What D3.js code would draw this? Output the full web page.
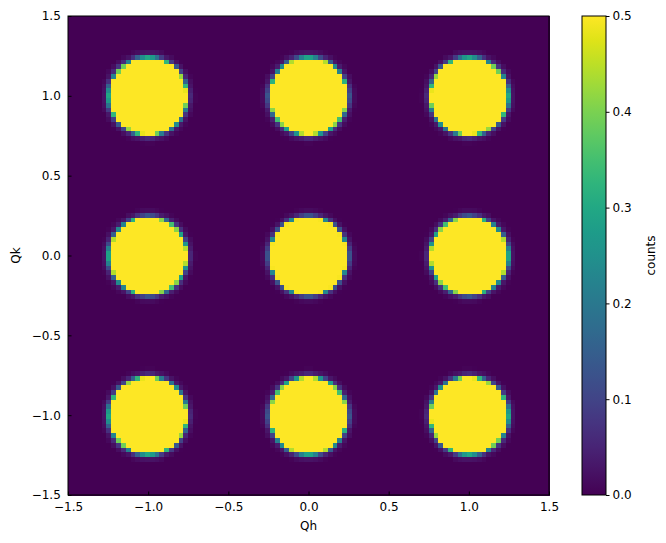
<!DOCTYPE html>
<html><head><meta charset="utf-8">
<script src="https://cdn.jsdelivr.net/npm/d3@7"></script>
<style>body{margin:0;background:#fff}text{font-family:"DejaVu Sans",sans-serif}</style>
</head><body>
<svg id="c" width="666" height="543"></svg>
<script>
const peakH = [-1, 0, 1];
const peakK = [-1, 0, 1];
const profileR = [0, 0.22, 0.237, 0.247, 0.257, 0.27, 0.3];
const profileV = [1.0, 0.8, 0.5, 0.25, 0.1, 0.03, 0.0];
const xTicks = [-1.5, -1.0, -0.5, 0.0, 0.5, 1.0, 1.5];
const yTicks = [-1.5, -1.0, -0.5, 0.0, 0.5, 1.0, 1.5];
const cTicks = [0.0, 0.1, 0.2, 0.3, 0.4, 0.5];
const nBins = 100;

const svg = d3.select("#c");
const L=68,R=549,T=16,B=495;
const x = d3.scaleLinear().domain([-1.5,1.5]).range([L,R]);
const y = d3.scaleLinear().domain([-1.5,1.5]).range([B,T]);
const color = d3.scaleSequential(d3.interpolateViridis).domain([0,0.5]).clamp(true);
const prof = d3.scaleLinear().domain(profileR).range(profileV).clamp(true);
const step = 3/nBins;
const cells=[];
for(let i=0;i<nBins;i++)for(let j=0;j<nBins;j++){
  const h=-1.5+(i+0.5)*step, k=-1.5+(j+0.5)*step;
  let v=0;
  peakH.forEach(ph=>peakK.forEach(pk=>{v+=prof(Math.hypot(h-ph,k-pk));}));
  cells.push({h0:-1.5+i*step,k0:-1.5+j*step,v});
}
svg.append("g").selectAll("rect").data(cells).join("rect")
 .attr("x",d=>x(d.h0)).attr("y",d=>y(d.k0+step))
 .attr("width",x(step)-x(0)+0.5).attr("height",y(0)-y(step)+0.5)
 .attr("fill",d=>color(d.v)).attr("shape-rendering","crispEdges");
svg.append("rect").attr("x",L).attr("y",T).attr("width",R-L).attr("height",B-T).attr("fill","none").attr("stroke","#000");
const fmt=d3.format(".1f"), lab=v=>fmt(v).replace("-","−");
const ax=svg.append("g").attr("transform",`translate(0,${B})`).call(d3.axisBottom(x).tickValues(xTicks).tickFormat(lab).tickSizeInner(-3.5).tickSizeOuter(0));
const ay=svg.append("g").attr("transform",`translate(${L},0)`).call(d3.axisLeft(y).tickValues(yTicks).tickFormat(lab).tickSizeInner(-3.5).tickSizeOuter(0));
[ax,ay].forEach(a=>{a.select(".domain").remove();a.selectAll("text").attr("font-size",12).attr("fill","#000");});
ax.selectAll("text").attr("dy","1.1em");
ay.selectAll("text").attr("dx","-0.35em");
svg.append("text").attr("x",(L+R)/2).attr("y",530).attr("text-anchor","middle").attr("font-size",12).text("Qh");
svg.append("text").attr("transform",`translate(20,${(T+B)/2}) rotate(-90)`).attr("text-anchor","middle").attr("font-size",12).text("Qk");
const CL=582,CR=606;
const cy=d3.scaleLinear().domain([0,0.5]).range([B,T]);
const defs=svg.append("defs");
const g=defs.append("linearGradient").attr("id","vg").attr("x1",0).attr("y1",1).attr("x2",0).attr("y2",0);
d3.range(0,1.001,0.05).forEach(t=>g.append("stop").attr("offset",t).attr("stop-color",d3.interpolateViridis(t)));
svg.append("rect").attr("x",CL).attr("y",T).attr("width",CR-CL).attr("height",B-T).attr("fill","url(#vg)").attr("stroke","#000");
const ac=svg.append("g").attr("transform",`translate(${CR},0)`).call(d3.axisRight(cy).tickValues(cTicks).tickFormat(fmt).tickSize(3.5).tickSizeOuter(0));
ac.select(".domain").remove();
ac.selectAll("text").attr("font-size",12).attr("fill","#000");
svg.append("text").attr("transform",`translate(655,${(T+B)/2}) rotate(-90)`).attr("text-anchor","middle").attr("font-size",12).text("counts");
</script></body></html>
